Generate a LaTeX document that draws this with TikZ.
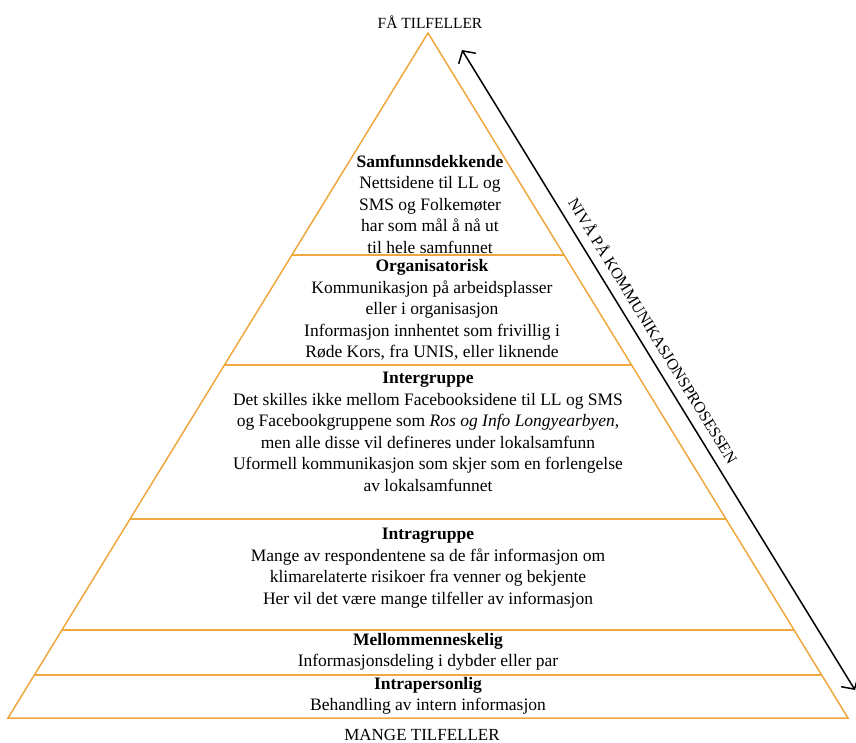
\documentclass[tikz,border=0pt]{standalone}
\usepackage{fontspec}
\setmainfont{Liberation Serif}
\usetikzlibrary{calc,arrows.meta}
\definecolor{pyr}{RGB}{238,168,62}
\begin{document}
\begin{tikzpicture}[x=1pt,y=-1pt,
  edge/.style={draw=pyr,line width=1.5pt},
  txt/.style={align=center,font=\fontsize{17.5}{21.5}\selectfont,inner sep=0pt},
  endtxt/.style={font=\fontsize{16}{20}\selectfont,inner sep=0pt},
  lvl/.style={font=\fontsize{16}{18}\selectfont,inner sep=0pt}]
\useasboundingbox (0,0) rectangle (856,743);
\coordinate (A) at (428,33);
\coordinate (L) at (8,718);
\coordinate (R) at (848,718);
\draw[edge,line join=miter] (A) -- (L) -- (R) -- cycle;
\foreach \t/\n in {0.3241/a,0.4847/b,0.7095/c,0.8715/d,0.9372/e}{
  \coordinate (l\n) at ($(A)!\t!(L)$);
  \coordinate (r\n) at ($(A)!\t!(R)$);
  \draw[edge] (l\n) -- (r\n);
}
\node[endtxt,font=\fontsize{15.5}{18}\selectfont,anchor=base] (top) at (430,29) {FÅ TILFELLER};
\node[endtxt,font=\fontsize{17}{20}\selectfont,anchor=base] (bot) at (422,740) {MANGE TILFELLER};
\node[txt] (s1) at (430,204) {\textbf{Samfunnsdekkende}\\Nettsidene til LL og\\SMS og Folkemøter\\har som mål å nå ut\\til hele samfunnet};
\node[txt] (s2) at (432,310) {\textbf{Organisatorisk}\\Kommunikasjon på arbeidsplasser\\eller i organisasjon\\Informasjon innhentet som frivillig i\\Røde Kors, fra UNIS, eller liknende};
\node[txt] (s3) at (428,432) {\textbf{Intergruppe}\\Det skilles ikke mellom Facebooksidene til LL og SMS\\og Facebookgruppene som \textit{Ros og Info Longyearbyen},\\men alle disse vil defineres under lokalsamfunn\\Uformell kommunikasjon som skjer som en forlengelse\\av lokalsamfunnet};
\node[txt] (s4) at (428,568) {\textbf{Intragruppe}\\Mange av respondentene sa de får informasjon om\\klimarelaterte risikoer fra venner og bekjente\\Her vil det være mange tilfeller av informasjon};
\node[txt] (s5) at (428,652) {\textbf{Mellommenneskelig}\\Informasjonsdeling i dybder eller par};
\node[txt] (s6) at (428,696) {\textbf{Intrapersonlig}\\Behandling av intern informasjon};
\coordinate (p1) at (462,50);
\coordinate (p2) at (855,690);
\draw[line width=1.5pt,{Straight Barb[length=9pt,width=20pt]}-{Straight Barb[length=9pt,width=20pt]}] (p1) -- (p2)
  node[lvl,sloped,pos=0.452,above=9pt] (niva) {NIVÅ PÅ KOMMUNIKASJONSPROSESSEN};
\end{tikzpicture}
\end{document}
